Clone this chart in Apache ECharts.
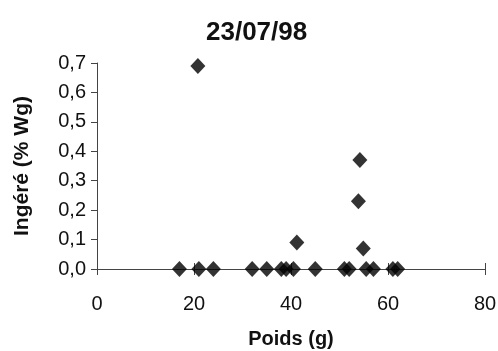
<!DOCTYPE html>
<html>
<head>
<meta charset="utf-8">
<script src="https://cdn.jsdelivr.net/npm/echarts@6/dist/echarts.min.js"></script>
<style>
  html, body { margin: 0; padding: 0; background: #fff; }
  #chart { width: 498px; height: 351px; }
</style>
</head>
<body>
<div id="chart"></div>
<script>
// Body weight (g) and ingested fraction (% Wg) for each fish
const poids = [17, 21, 24, 32, 35, 38, 39, 40.5, 45, 51, 52, 55.5, 57, 61, 62,
               20.8, 41.2, 54.2, 53.9, 54.9];
const ingere = [0, 0, 0, 0, 0, 0, 0, 0, 0, 0, 0, 0, 0, 0, 0,
                0.69, 0.09, 0.37, 0.23, 0.07];

const titre = '23/07/98';
const nomX = 'Poids (g)';
const nomY = 'Ingéré (% Wg)';

const points = poids.map((p, i) => [p, ingere[i]]);

const font = 'Liberation Sans, Arial, sans-serif';
const axisColor = '#444';

const chart = echarts.init(document.getElementById('chart'), null, { renderer: 'canvas' });
chart.setOption({
  animation: false,
  backgroundColor: '#fff',
  title: {
    text: titre,
    left: 201, top: 15,
    textStyle: { fontFamily: font, fontSize: 26, fontWeight: 'bold', color: '#111' }
  },
  grid: {
    left: 97, right: 13, top: 63, bottom: 82,
    containLabel: false, outerBoundsMode: 'none'
  },
  xAxis: [{
    type: 'value', min: 0, max: 80, interval: 20,
    name: nomX, nameLocation: 'middle', nameGap: 60,
    nameTextStyle: { fontFamily: font, fontSize: 20, fontWeight: 'bold', color: '#111' },
    axisLine: { show: true, onZero: false, lineStyle: { color: axisColor, width: 1 } },
    axisTick: { show: true, inside: false, length: 6, lineStyle: { color: axisColor } },
    axisLabel: { fontFamily: font, fontSize: 20, color: '#111', margin: 25 },
    splitLine: { show: false }
  }, {
    type: 'value', min: 0, max: 80, interval: 20, position: 'bottom',
    axisLine: { show: false },
    axisTick: { show: true, inside: true, length: 6, lineStyle: { color: axisColor } },
    axisLabel: { show: false },
    splitLine: { show: false }
  }],
  yAxis: {
    type: 'value', min: 0, max: 0.7, interval: 0.1,
    name: nomY, nameLocation: 'middle', nameGap: 64,
    nameTextStyle: { fontFamily: font, fontSize: 21, fontWeight: 'bold', color: '#111' },
    axisLine: { show: true, onZero: false, lineStyle: { color: axisColor, width: 1 } },
    axisTick: { show: true, inside: false, length: 6, lineStyle: { color: axisColor } },
    axisLabel: {
      fontFamily: font, fontSize: 20, color: '#111', margin: 11,
      formatter: v => v.toFixed(1).replace('.', ',')
    },
    splitLine: { show: false }
  },
  series: [{
    type: 'scatter',
    data: points,
    symbol: 'diamond',
    symbolSize: [15, 16],
    itemStyle: { color: '#000' },
    z: 5
  }]
});
</script>
</body>
</html>
